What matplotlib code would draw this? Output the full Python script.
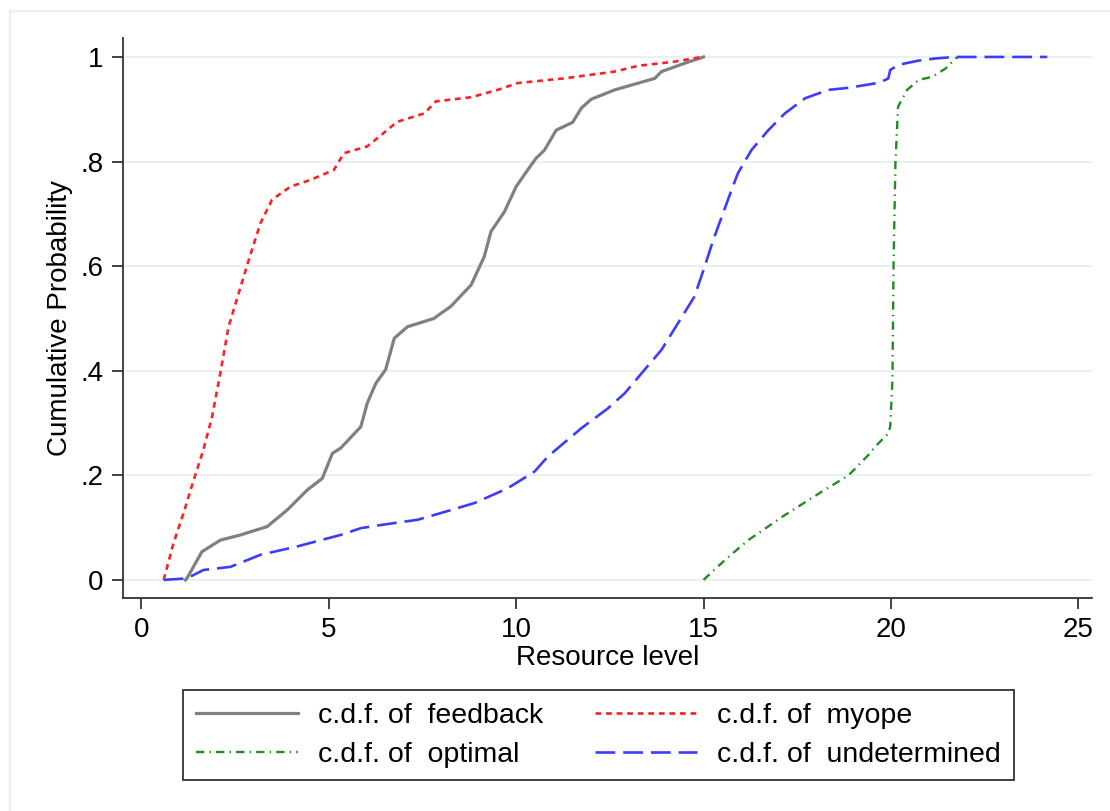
import matplotlib.pyplot as plt
from matplotlib.patches import Rectangle

plt.rcParams['font.family'] = ['Liberation Sans', 'DejaVu Sans']

# values
feedback_x = [1.18, 1.22, 1.62, 2.11, 2.65, 3.36, 3.9, 4.43, 4.83, 5.1, 5.32, 5.86, 6.03,
              6.26, 6.52, 6.75, 7.10, 7.81, 8.0, 8.26, 8.8, 9.15, 9.33, 9.69, 10.0, 10.31,
              10.53, 10.76, 11.07, 11.51, 11.74, 12.0, 12.63, 13.7, 13.88, 14.5, 15.0]
feedback_y = [0, 0.003, 0.054, 0.076, 0.086, 0.102, 0.134, 0.172, 0.194, 0.242, 0.252, 0.293,
              0.338, 0.376, 0.402, 0.462, 0.484, 0.5, 0.51, 0.523, 0.564, 0.618, 0.666, 0.704,
              0.752, 0.784, 0.806, 0.822, 0.86, 0.875, 0.902, 0.919, 0.937, 0.959, 0.972,
              0.988, 1.0]

myope_x = [0.6, 0.86, 1.13, 1.40, 1.66, 1.89, 2.11, 2.33, 2.6, 2.87, 3.18, 3.49, 3.98, 4.52,
           5.14, 5.41, 6.03, 6.39, 6.83, 7.55, 7.86, 8.8, 9.51, 10.04, 11.28, 12.63, 13.25,
           14.23, 14.95]
myope_y = [0, 0.07, 0.128, 0.191, 0.249, 0.312, 0.395, 0.484, 0.548, 0.612, 0.682, 0.727,
           0.752, 0.765, 0.784, 0.816, 0.829, 0.85, 0.876, 0.892, 0.915, 0.923, 0.937, 0.95,
           0.959, 0.972, 0.983, 0.991, 1.0]

optimal_x = [15.0, 15.57, 16.19, 17.17, 18.16, 18.87, 19.4, 19.58, 19.93, 19.98, 20.04, 20.07,
             20.12, 20.19, 20.43, 20.74, 21.1, 21.46, 21.72, 21.8]
optimal_y = [0, 0.038, 0.076, 0.124, 0.169, 0.2, 0.239, 0.255, 0.28, 0.293, 0.382, 0.605,
             0.797, 0.905, 0.937, 0.956, 0.962, 0.978, 0.997, 1.0]

undet_x = [0.6, 1.22, 1.66, 2.38, 3.18, 4.16, 5.32, 5.86, 6.39, 7.37, 8.0, 8.89, 9.77, 10.49,
           10.85, 11.74, 12.45, 12.9, 13.43, 13.88, 14.32, 14.76, 15.03, 15.26, 15.52, 15.75,
           15.92, 16.28, 16.73, 17.17, 17.71, 18.33, 18.87, 19.71, 19.93, 19.98, 20.2, 20.74,
           21.18, 21.7, 24.17]
undet_y = [0, 0.003, 0.019, 0.025, 0.048, 0.064, 0.086, 0.099, 0.105, 0.115, 0.128, 0.147,
           0.175, 0.207, 0.236, 0.29, 0.328, 0.357, 0.402, 0.44, 0.491, 0.542, 0.599, 0.65,
           0.701, 0.746, 0.778, 0.822, 0.86, 0.892, 0.921, 0.937, 0.941, 0.951, 0.959, 0.975,
           0.985, 0.993, 0.997, 1.0, 1.0]

x_ticks = [0, 5, 10, 15, 20, 25]
y_ticks = [0, 0.2, 0.4, 0.6, 0.8, 1.0]
y_ticklabels = ["0", ".2", ".4", ".6", ".8", "1"]

fig = plt.figure(figsize=(11.1, 8.11), dpi=100)
fig.patches.append(Rectangle((10 / 1110, -0.1), 1.2, 1.1 - 11 / 811, transform=fig.transFigure,
                             fill=False, edgecolor="#e8f0f2", linewidth=1.5))
ax = fig.add_axes([0.111, 0.263, 0.873, 0.69])

l_fb, = ax.plot(feedback_x, feedback_y, color="#808080", lw=2.3, label="c.d.f. of  feedback")
l_my, = ax.plot(myope_x, myope_y, color="#ff2020", lw=1.9, dashes=(2.2, 1.8),
                label="c.d.f. of  myope")
l_op, = ax.plot(optimal_x, optimal_y, color="#228b22", lw=1.7, dashes=(3.5, 2.2, 0.6, 2.2),
                label="c.d.f. of  optimal")
l_un, = ax.plot(undet_x, undet_y, color="#3c3cff", lw=1.9, dashes=(7.5, 3.0),
                label="c.d.f. of  undetermined")

ax.set_xlim(-0.48, 25.37)
ax.set_ylim(-0.034, 1.036)
ax.set_xticks(x_ticks)
ax.set_yticks(y_ticks)
ax.set_yticklabels(y_ticklabels)
ax.tick_params(axis="both", labelsize=20, length=8, width=1.3, color="#333333", pad=6)
ax.yaxis.grid(True, color="#e8f0f2", lw=1.5)
ax.set_axisbelow(True)
for s in ["top", "right"]:
    ax.spines[s].set_visible(False)
for s in ["left", "bottom"]:
    ax.spines[s].set_color("#333333")
    ax.spines[s].set_linewidth(1.3)

ax.set_xlabel("Resource level", fontsize=20)
ax.set_ylabel("Cumulative Probability", fontsize=20)
ax.xaxis.set_label_coords(0.5, -0.085)
ax.yaxis.set_label_coords(-0.052, 0.5)

# legend filled row by row: feedback, myope / optimal, undetermined
handles = [l_fb, l_op, l_my, l_un]
leg = fig.legend(handles, [h.get_label() for h in handles], loc="upper left",
                 bbox_to_anchor=(183 / 1110, 1 - 690 / 811), ncol=2, fontsize=20.5,
                 frameon=True, fancybox=False, edgecolor="black", handlelength=3.6,
                 handletextpad=0.7, borderpad=0.45, labelspacing=0.45, columnspacing=1.8,
                 borderaxespad=0)
leg.get_frame().set_linewidth(1.3)

fig.savefig("out.png", dpi=100, facecolor="white")
